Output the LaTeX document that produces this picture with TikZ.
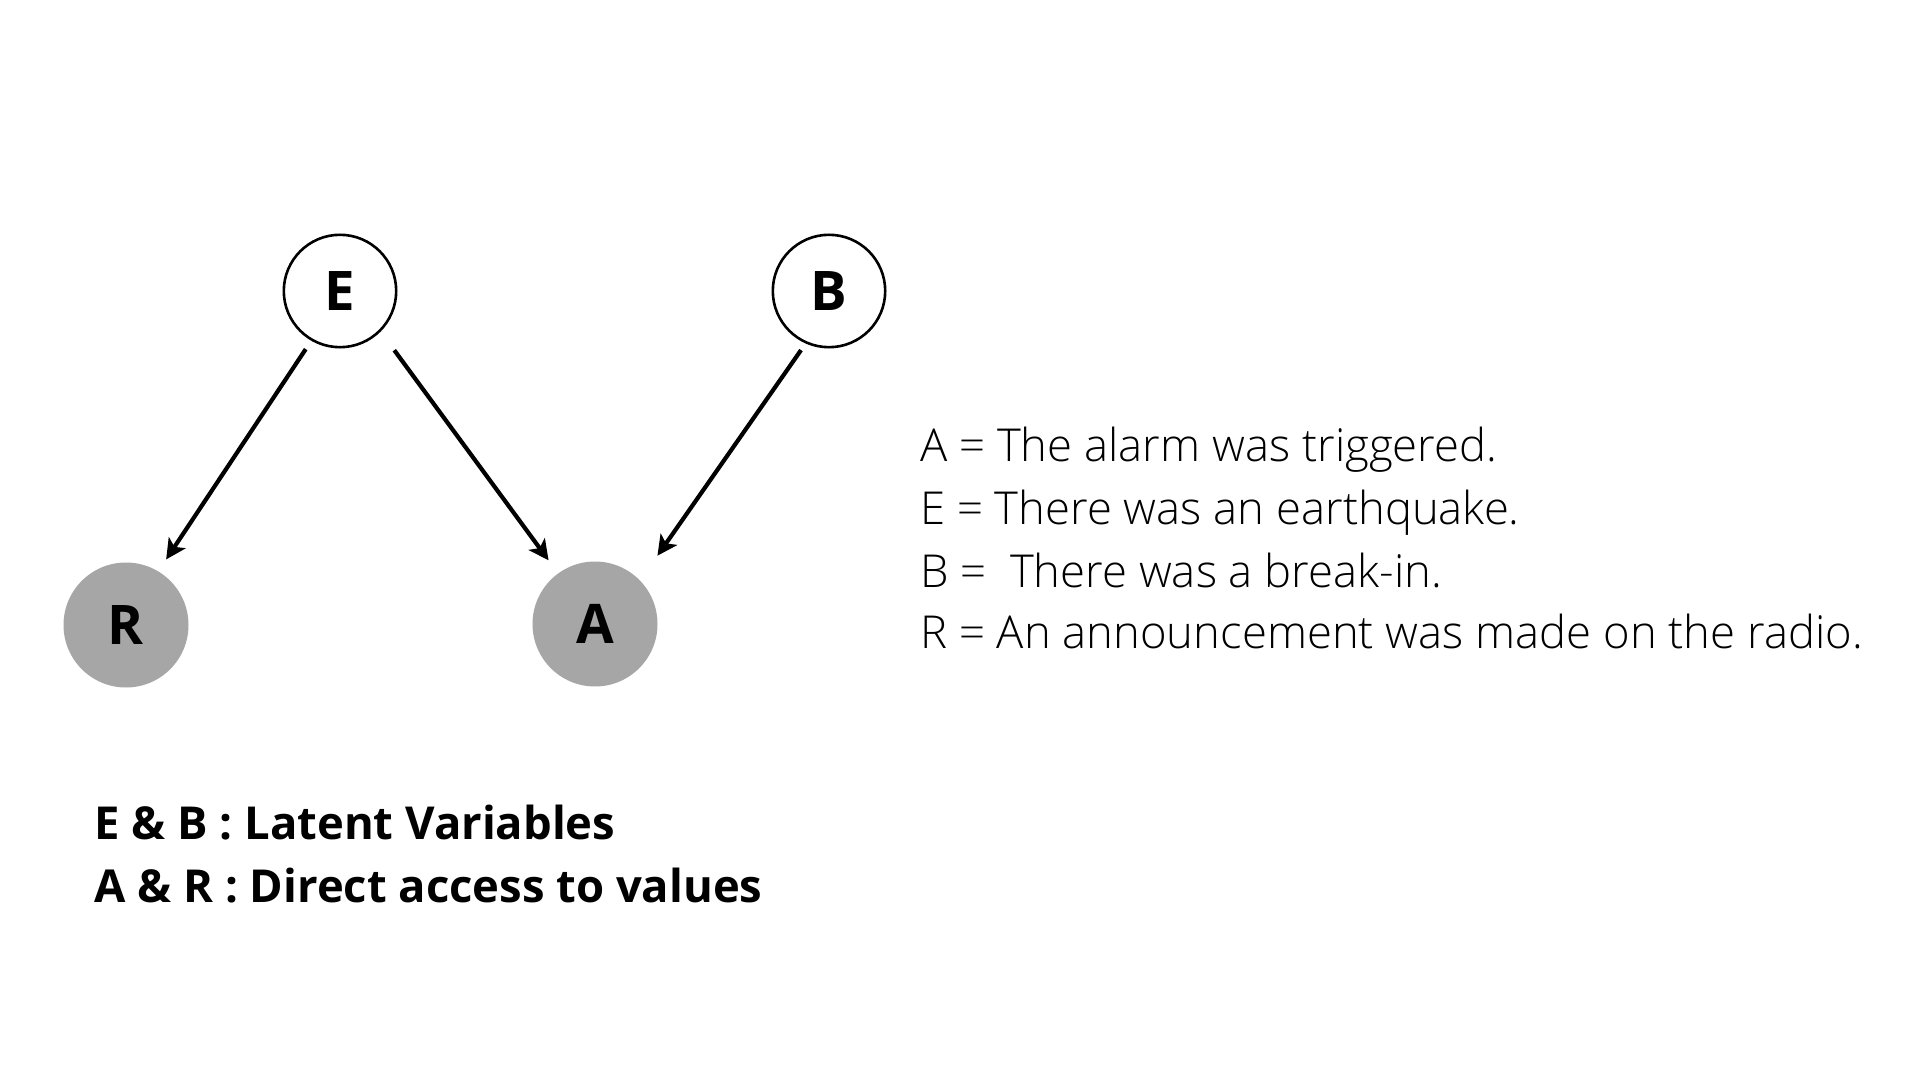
\documentclass[tikz,border=0pt]{standalone}
\usepackage{fontspec}
\setmainfont{Open Sans}
\newfontfamily\lightfont{Open Sans Light}
\usetikzlibrary{arrows.meta}
\definecolor{nodegray}{HTML}{A6A6A6}
\tikzset{
  latent/.style={circle, draw=black, line width=1.3pt, fill=white, minimum size=56.2pt, inner sep=0pt, font=\fontsize{27.3}{30}\selectfont\bfseries},
  observed/.style={circle, fill=nodegray, minimum size=62.5pt, inner sep=0pt, font=\fontsize{27.3}{30}\selectfont\bfseries},
  arr/.style={line width=2.1pt, -{Stealth[length=10pt, width=10pt, inset=2.5pt]}},
  legend/.style={anchor=base west, inner sep=0pt, font=\fontsize{22.7}{28}\selectfont\lightfont},
  note/.style={anchor=base west, inner sep=0pt, font=\fontsize{22.7}{28}\selectfont\bfseries}
}
\begin{document}
\begin{tikzpicture}[x=0.5pt, y=-0.5pt]
\useasboundingbox[fill=white] (0,0) rectangle (1920,1080);
\node[latent] (E) at (340,291) {E};
\node[latent] (B) at (829,291) {B};
\node[observed] (R) at (126,625) {R};
\node[observed] (A) at (595,624) {A};
\draw[arr, shorten <=5pt, shorten >=7pt] (E.-120) -- (R.59);
\draw[arr, shorten <=11.5pt, shorten >=8pt] (E.-45) -- (A.126);
\draw[arr, shorten <=4pt, shorten >=15pt] (B.-114) -- (A.44);
\node[legend] (l1) at (920,461) {A = The alarm was triggered.};
\node[legend] (l2) at (920,524) {E = There was an earthquake.};
\node[legend] (l3) at (920,587) {B = \ There was a break-in.};
\node[legend] (l4) at (920,648) {R = An announcement was made on the radio.};
\node[note] (n1) at (94,839) {E \& B : Latent Variables};
\node[note] (n2) at (94,902) {A \& R : Direct access to values};
\end{tikzpicture}
\end{document}
